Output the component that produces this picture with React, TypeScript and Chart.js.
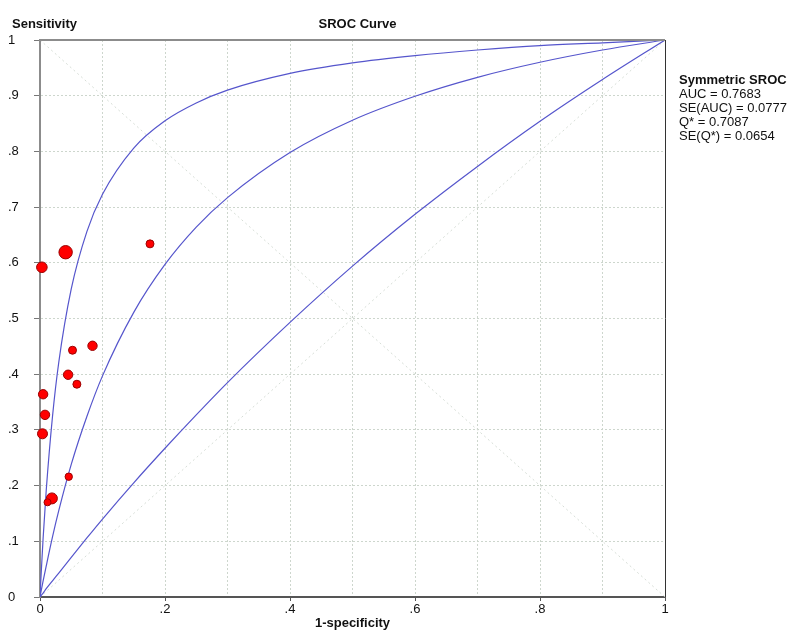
import React, { useEffect, useRef } from 'react';
import { Chart, registerables } from 'chart.js';

Chart.register(...registerables);

// Study points (1-specificity, sensitivity, marker radius ~ study weight)
const studyFPR = [0.003, 0.041, 0.176, 0.052, 0.084, 0.045, 0.059, 0.005, 0.008, 0.004, 0.046, 0.019, 0.012];
const studyTPR = [0.592, 0.619, 0.634, 0.443, 0.451, 0.399, 0.382, 0.364, 0.327, 0.293, 0.216, 0.177, 0.170];
const studySize = [5.3, 6.7, 4, 4, 4.7, 4.7, 4, 4.7, 4.7, 5, 3.7, 5.5, 3.5];

// Curves
const curveFPR = [0, 0.002, 0.005, 0.01, 0.02, 0.03, 0.05, 0.075, 0.1, 0.15, 0.2, 0.25, 0.3, 0.4, 0.5, 0.6, 0.7, 0.8, 0.9, 1];
const upperTPR = [0, 0.045, 0.106, 0.192, 0.324, 0.421, 0.553, 0.656, 0.723, 0.806, 0.855, 0.887, 0.910, 0.940, 0.959, 0.972, 0.982, 0.990, 0.995, 1];
const srocTPR = [0, 0.012, 0.029, 0.056, 0.108, 0.155, 0.238, 0.324, 0.397, 0.511, 0.597, 0.664, 0.717, 0.798, 0.856, 0.899, 0.933, 0.960, 0.982, 1];
const lowerTPR = [0, 0.003, 0.007, 0.015, 0.029, 0.043, 0.071, 0.106, 0.140, 0.205, 0.267, 0.327, 0.385, 0.493, 0.594, 0.687, 0.773, 0.854, 0.929, 1];

const yTickLabels = ['0', '.1', '.2', '.3', '.4', '.5', '.6', '.7', '.8', '.9', '1'];
const xTickLabels = ['0', '.2', '.4', '.6', '.8', '1'];

const chartTitle = 'SROC Curve';
const yTitle = 'Sensitivity';
const xTitle = '1-specificity';
const legendTitle = 'Symmetric SROC';
const legendLines = ['AUC = 0.7683', 'SE(AUC) = 0.0777', 'Q* = 0.7087', 'SE(Q*) = 0.0654'];

const FONT = '"Liberation Sans", Arial, sans-serif';
const CURVE = '#5555cc';
const GRID = '#cdd6cd';

const pts = (xs: number[], ys: number[]) => xs.map((x, i) => ({ x, y: ys[i] }));

const framePlugin = {
  id: 'frameAndText',
  afterDraw(chart: any) {
    const { ctx, chartArea } = chart;
    const { left, right, top, bottom } = chartArea;
    ctx.save();
    // top border
    ctx.strokeStyle = '#8c8c8c';
    ctx.lineWidth = 2;
    ctx.beginPath();
    ctx.moveTo(left - 1, top);
    ctx.lineTo(right, top);
    ctx.stroke();
    // right border
    ctx.strokeStyle = '#333333';
    ctx.lineWidth = 1;
    ctx.beginPath();
    ctx.moveTo(right + 0.5, top);
    ctx.lineTo(right + 0.5, bottom);
    ctx.stroke();
    // titles
    ctx.fillStyle = '#111111';
    ctx.font = `bold 13px ${FONT}`;
    ctx.textBaseline = 'middle';
    ctx.textAlign = 'left';
    ctx.fillText(yTitle, 12, 24);
    ctx.textAlign = 'center';
    ctx.fillText(chartTitle, (left + right) / 2 + 5, 24);
    // legend
    ctx.textAlign = 'left';
    const lx = right + 14;
    let ly = 80;
    ctx.fillText(legendTitle, lx, ly);
    ctx.font = `13px ${FONT}`;
    legendLines.forEach((t) => {
      ly += 14.2;
      ctx.fillText(t, lx, ly);
    });
    ctx.restore();
  },
};

export default function App() {
  const ref = useRef<HTMLCanvasElement | null>(null);
  useEffect(() => {
    document.body.style.margin = '0';
    const canvas = ref.current;
    if (!canvas) return;
    const chart = new Chart(canvas, {
      type: 'scatter',
      data: {
        datasets: [
          {
            label: 'Studies',
            data: pts(studyFPR, studyTPR),
            pointRadius: studySize,
            pointBackgroundColor: '#ff0000',
            pointBorderColor: '#9a0000',
            pointBorderWidth: 1,
            showLine: false,
            clip: false,
          },
          {
            label: 'Upper',
            data: pts(curveFPR, upperTPR),
            showLine: true,
            borderColor: CURVE,
            borderWidth: 1.2,
            pointRadius: 0,
            cubicInterpolationMode: 'monotone',
          },
          {
            label: 'SROC',
            data: pts(curveFPR, srocTPR),
            showLine: true,
            borderColor: CURVE,
            borderWidth: 1.2,
            pointRadius: 0,
            cubicInterpolationMode: 'monotone',
          },
          {
            label: 'Lower',
            data: pts(curveFPR, lowerTPR),
            showLine: true,
            borderColor: CURVE,
            borderWidth: 1.2,
            pointRadius: 0,
            cubicInterpolationMode: 'monotone',
          },
          {
            label: 'Diag1',
            data: [{ x: 0, y: 1 }, { x: 1, y: 0 }],
            showLine: true,
            borderColor: '#d6ddd6',
            borderWidth: 1,
            borderDash: [2, 3],
            pointRadius: 0,
          },
          {
            label: 'Diag2',
            data: [{ x: 0, y: 0 }, { x: 1, y: 1 }],
            showLine: true,
            borderColor: '#d6ddd6',
            borderWidth: 1,
            borderDash: [2, 3],
            pointRadius: 0,
          },
        ],
      },
      options: {
        animation: false,
        responsive: false,
        maintainAspectRatio: false,
        layout: { padding: { left: 8, top: 40, right: 132, bottom: 0 } },
        plugins: {
          legend: { display: false },
          tooltip: { enabled: false },
          title: { display: false },
        },
        scales: {
          x: {
            type: 'linear',
            min: 0,
            max: 1,
            afterFit: (s: any) => {
              s.height = 36;
            },
            ticks: {
              stepSize: 0.1,
              autoSkip: false,
              maxRotation: 0,
              padding: 1,
              color: '#111111',
              font: { family: FONT, size: 13 },
              callback: (_v: any, i: number) => (i % 2 === 0 ? xTickLabels[i / 2] : ''),
            },
            grid: {
              color: GRID,
              lineWidth: 1,
              tickLength: 4,
              tickColor: (c: any) => (c.index % 2 === 0 ? '#555555' : 'rgba(0,0,0,0)'),
            },
            border: { color: '#555555', width: 2, dash: [2, 2] },
            title: {
              display: true,
              text: xTitle,
              color: '#111111',
              font: { family: FONT, size: 13, weight: 'bold' },
              padding: { top: 0, bottom: 2 },
            },
          },
          y: {
            type: 'linear',
            min: 0,
            max: 1,
            afterFit: (s: any) => {
              s.width = 32;
            },
            ticks: {
              stepSize: 0.1,
              autoSkip: false,
              crossAlign: 'far',
              color: '#111111',
              font: { family: FONT, size: 13 },
              callback: (_v: any, i: number) => yTickLabels[i],
            },
            grid: {
              color: GRID,
              lineWidth: 1,
              tickLength: 6,
              tickColor: '#777777',
            },
            border: { color: '#8c8c8c', width: 2, dash: [2, 2] },
          },
        },
      },
      plugins: [framePlugin],
    } as any);
    return () => chart.destroy();
  }, []);
  return (
    <div style={{ width: 797, height: 633, background: '#ffffff' }}>
      <canvas ref={ref} width={797} height={633} style={{ display: 'block' }} />
    </div>
  );
}
